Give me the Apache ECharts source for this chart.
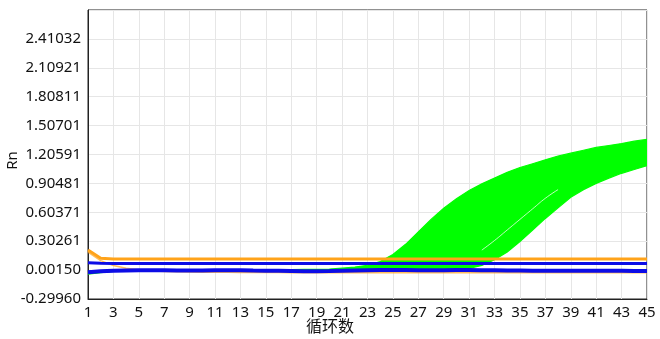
<!DOCTYPE html>
<html>
<head>
<meta charset="utf-8">
<script src="https://cdn.jsdelivr.net/npm/echarts@6/dist/echarts.min.js"></script>
<style>
html,body{margin:0;padding:0;background:#fff;}
#chart{width:660px;height:339px;}
</style>
</head>
<body>
<div id="chart"></div>
<script>
const cycles = [1,2,3,4,5,6,7,8,9,10,11,12,13,14,15,16,17,18,19,20,21,22,23,24,25,26,27,28,29,30,31,32,33,34,35,36,37,38,39,40,41,42,43,44,45];

const yTickLabels = ['-0.29960','0.00150','0.30261','0.60371','0.90481','1.20591','1.50701','1.80811','2.10921','2.41032'];

// earliest amplification curve (upper edge of green band)
const greenEarly = [-0.012,-0.004,0.0,0.002,0.003,0.003,0.004,0.004,0.005,0.005,
  0.005,0.006,0.006,0.006,0.007,0.007,0.008,0.009,0.01,0.012,
  0.022,0.033,0.052,0.09,0.165,0.27,0.40,0.53,0.645,0.745,
  0.83,0.90,0.96,1.02,1.07,1.11,1.15,1.19,1.22,1.25,
  1.28,1.30,1.32,1.345,1.365];

// latest amplification curve (lower edge of green band)
const greenLate = [-0.04,-0.025,-0.012,-0.006,-0.003,-0.002,-0.002,-0.002,-0.002,-0.002,
  -0.002,-0.002,-0.002,-0.002,-0.002,-0.002,-0.002,-0.002,-0.002,-0.002,
  -0.002,-0.002,-0.002,-0.002,-0.002,0.0,0.0,0.002,0.004,0.008,
  0.018,0.05,0.11,0.19,0.30,0.42,0.54,0.65,0.76,0.84,
  0.905,0.96,1.01,1.05,1.09];

// thin gap between two groups of late curves
const greenGap = [null,null,null,null,null,null,null,null,null,null,
  null,null,null,null,null,null,null,null,null,null,
  null,null,null,null,null,null,null,null,null,null,
  null,0.21,0.31,0.42,0.53,0.64,0.75,0.84,null,null,
  null,null,null,null,null];

const orangeLine = [0.21,0.125,0.118,0.117,0.117,0.117,0.117,0.117,0.117,0.117,
  0.117,0.117,0.117,0.117,0.117,0.117,0.117,0.117,0.117,0.117,
  0.117,0.117,0.117,0.117,0.117,0.117,0.117,0.117,0.117,0.117,
  0.117,0.117,0.117,0.117,0.117,0.117,0.117,0.117,0.117,0.117,
  0.117,0.117,0.117,0.117,0.117];

const orangeDecay = [0.19,0.10,0.05,0.02,0.005,-0.005,-0.012,-0.016,-0.018,-0.02,
  -0.022,-0.022,-0.023,-0.023,-0.024,-0.024,-0.025,-0.025,-0.025,-0.025,
  -0.025,-0.025,-0.025,-0.025,-0.025,-0.025,-0.025,-0.025,-0.025,-0.025,
  -0.025,-0.025,-0.025,-0.025,-0.025,-0.025,-0.025,-0.025,-0.025,-0.025,
  -0.025,-0.025,-0.025,-0.025,-0.025];

const blueUpper = [0.078,0.072,0.071,0.07,0.07,0.07,0.07,0.07,0.07,0.07,
  0.07,0.07,0.07,0.07,0.07,0.07,0.07,0.07,0.07,0.07,
  0.07,0.07,0.07,0.07,0.07,0.07,0.07,0.07,0.07,0.07,
  0.07,0.07,0.07,0.07,0.07,0.07,0.07,0.07,0.07,0.07,
  0.07,0.07,0.07,0.07,0.07];

const blueLower = [-0.02,-0.01,-0.004,-0.002,0.0,0.001,0.0,-0.002,-0.003,-0.002,
  0.0,0.001,0.0,-0.003,-0.005,-0.006,-0.008,-0.01,-0.01,-0.008,
  -0.005,-0.002,0.0,0.002,0.003,0.002,0.0,0.0,0.001,0.002,
  0.002,0.001,0.0,-0.002,-0.003,-0.004,-0.004,-0.005,-0.006,-0.006,
  -0.005,-0.005,-0.006,-0.007,-0.008];

const GREEN = '#00ff00';
const ORANGE = '#ffa31a';
const BLUE = '#0c0ce6';
const FONT = 'Noto Sans';

const pairs = arr => arr.map((v, i) => [cycles[i], v]);
const bandData = cycles.map((c, i) => [c, greenLate[i], greenEarly[i]]);

const chart = echarts.init(document.getElementById('chart'), null, {renderer: 'canvas'});
chart.setOption({
  animation: false,
  backgroundColor: '#fff',
  title: {
    text: '循环数',
    left: 'center',
    top: 313,
    textStyle: {fontFamily: 'Noto Sans CJK SC', fontSize: 16, fontWeight: 'normal', color: '#111'}
  },
  grid: {
    left: 88, right: 13, top: 10, bottom: 40,
    containLabel: false, outerBoundsMode: 'none',
    show: true, borderColor: '#222', borderWidth: 1, backgroundColor: 'transparent'
  },
  xAxis: {
    type: 'value',
    min: 1,
    max: 45,
    interval: 2,
    axisLine: {show: true, onZero: false, lineStyle: {color: '#222', width: 1}},
    axisTick: {show: false},
    axisLabel: {color: '#111', fontFamily: FONT, fontSize: 15, margin: 6},
    splitLine: {show: true, lineStyle: {color: '#e6e6e6', width: 1}}
  },
  yAxis: {
    type: 'value',
    min: -0.2996,
    max: 2.7115,
    interval: 0.30111,
    name: 'Rn',
    nameLocation: 'middle',
    nameGap: 68,
    nameMoveOverlap: false,
    nameTextStyle: {fontFamily: FONT, fontSize: 15, color: '#111', padding: [0, 12, 0, 0]},
    axisLine: {show: true, lineStyle: {color: '#222', width: 1}},
    axisTick: {show: false},
    axisLabel: {
      color: '#111', fontFamily: FONT, fontSize: 15, margin: 7,
      formatter: function (value) {
        const lab = yTickLabels.find(l => Math.abs(parseFloat(l) - value) < 0.01);
        return lab || '';
      }
    },
    splitLine: {show: true, lineStyle: {color: '#e6e6e6', width: 1}}
  },
  series: [
    {
      name: 'amplification', type: 'custom', data: bandData,
      encode: {x: 0, y: [1, 2]}, z: 2, clip: true,
      renderItem: function (params, api) {
        if (params.dataIndex !== 0) return null;
        const top = bandData.map(d => api.coord([d[0], d[2]]));
        const bottom = bandData.map(d => api.coord([d[0], d[1]])).reverse();
        return {
          type: 'polygon',
          shape: {points: top.concat(bottom)},
          style: {fill: GREEN, stroke: GREEN, lineWidth: 1.2}
        };
      }
    },
    {
      name: 'gap', type: 'line', data: pairs(greenGap), symbol: 'none', smooth: true,
      lineStyle: {color: '#ffffff', width: 1, opacity: 0.75}, z: 3
    },
    {
      name: 'orangeDecay', type: 'line', data: pairs(orangeDecay), symbol: 'none',
      lineStyle: {color: ORANGE, width: 1.5, opacity: 0.7}, z: 3
    },
    {
      name: 'blueLower', type: 'line', data: pairs(blueLower), symbol: 'none',
      lineStyle: {color: BLUE, width: 4}, z: 4
    },
    {
      name: 'blueUpper', type: 'line', data: pairs(blueUpper), symbol: 'none',
      lineStyle: {color: BLUE, width: 3}, z: 4
    },
    {
      name: 'orange', type: 'line', data: pairs(orangeLine), symbol: 'none',
      lineStyle: {color: ORANGE, width: 3}, z: 5
    }
  ]
});
</script>
</body>
</html>
